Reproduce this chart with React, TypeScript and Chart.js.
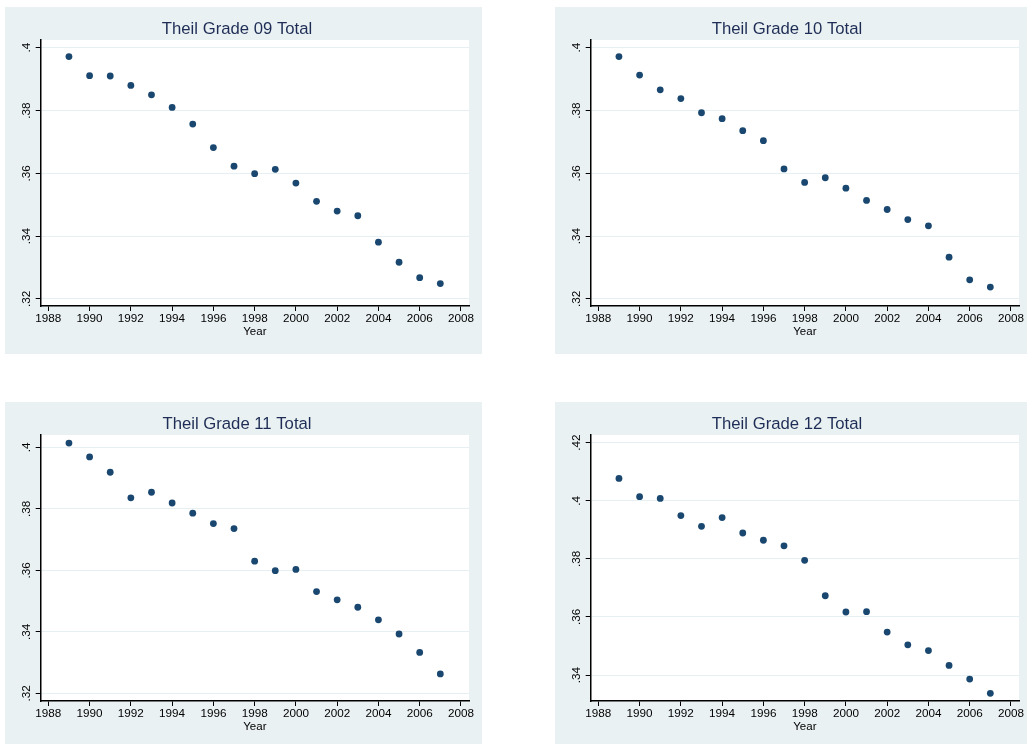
import React, { useEffect, useRef } from "react";
import { Chart, registerables } from "chart.js";

Chart.register(...registerables);

const years = [1989, 1990, 1991, 1992, 1993, 1994, 1995, 1996, 1997, 1998, 1999, 2000, 2001, 2002, 2003, 2004, 2005, 2006, 2007];
const grade09 = [0.3972, 0.3911, 0.391, 0.388, 0.385, 0.381, 0.3757, 0.3682, 0.3623, 0.3599, 0.3613, 0.3569, 0.3511, 0.348, 0.3465, 0.3381, 0.3317, 0.3268, 0.3249];
const grade10 = [0.3972, 0.3913, 0.3866, 0.3838, 0.3793, 0.3774, 0.3736, 0.3704, 0.3614, 0.3571, 0.3586, 0.3553, 0.3514, 0.3485, 0.3453, 0.3433, 0.3333, 0.3261, 0.3238];
const grade11 = [0.4014, 0.3969, 0.3919, 0.3836, 0.3854, 0.3819, 0.3786, 0.3752, 0.3736, 0.363, 0.3599, 0.3603, 0.3531, 0.3504, 0.348, 0.3439, 0.3393, 0.3333, 0.3263];
const grade12 = [0.4077, 0.4014, 0.4008, 0.3949, 0.3912, 0.3942, 0.3889, 0.3864, 0.3845, 0.3795, 0.3673, 0.3617, 0.3618, 0.3548, 0.3504, 0.3484, 0.3433, 0.3386, 0.3337];

const xTicks = [1988, 1990, 1992, 1994, 1996, 1998, 2000, 2002, 2004, 2006, 2008];
const yTicksLow = [0.32, 0.34, 0.36, 0.38, 0.4];
const yTickLabelsLow = [".32", ".34", ".36", ".38", ".4"];
const yTicksHigh = [0.34, 0.36, 0.38, 0.4, 0.42];
const yTickLabelsHigh = [".34", ".36", ".38", ".4", ".42"];

const FONT = "'Liberation Sans', Arial, Helvetica, sans-serif";
const PANEL_BG = "#eaf1f3";
const MARKER = "#1a476f";
const TITLE_COLOR = "#1e2d55";
const GRID = "#e6eff1";

const plotBg = {
  id: "plotBg",
  beforeDraw(chart: any) {
    const { ctx, chartArea } = chart;
    if (!chartArea) return;
    ctx.save();
    ctx.fillStyle = "#ffffff";
    ctx.fillRect(chartArea.left, chartArea.top, chartArea.right - chartArea.left, chartArea.bottom - chartArea.top);
    ctx.restore();
  },
};

type PanelProps = {
  title: string;
  values: number[];
  yTicks: number[];
  yLabels: string[];
  yMin: number;
  yMax: number;
  left: number;
  top: number;
  width: number;
  height: number;
};

function Panel({ title, values, yTicks, yLabels, yMin, yMax, left, top, width, height }: PanelProps) {
  const ref = useRef<HTMLCanvasElement | null>(null);
  useEffect(() => {
    if (!ref.current) return;
    const chart = new Chart(ref.current, {
      type: "scatter",
      data: {
        datasets: [
          {
            data: years.map((y, i) => ({ x: y, y: values[i] })),
            backgroundColor: MARKER,
            borderColor: MARKER,
            borderWidth: 0,
            pointRadius: 3.4,
            showLine: false,
          },
        ],
      },
      options: {
        animation: false,
        responsive: false,
        devicePixelRatio: 1,
        layout: { padding: { left: 0, right: width - 464, top: 0, bottom: height - 331.9 } },
        plugins: {
          legend: { display: false },
          tooltip: { enabled: false },
          title: {
            display: true,
            text: title,
            color: TITLE_COLOR,
            font: { family: FONT, size: 16.7, weight: "normal", lineHeight: 1.2 },
            padding: { top: 12, bottom: 1 },
          },
        },
        scales: {
          x: {
            type: "linear",
            min: 1987.63,
            max: 2008.39,
            afterBuildTicks: (s: any) => {
              s.ticks = xTicks.map((v) => ({ value: v }));
            },
            afterFit: (s: any) => {
              s.height = 32.9;
            },
            grid: { drawOnChartArea: false, tickLength: 5, tickColor: "#000", tickWidth: 1 },
            border: { color: "#000", width: 1.5 },
            ticks: {
              color: "#000",
              font: { family: FONT, size: 11.7 },
              padding: 1,
              maxRotation: 0,
              autoSkip: false,
              callback: (v: any) => String(v),
            },
            title: { display: true, text: "Year", color: "#000", font: { family: FONT, size: 11.5 }, padding: 0 },
          },
          y: {
            type: "linear",
            min: yMin,
            max: yMax,
            afterBuildTicks: (s: any) => {
              s.ticks = yTicks.map((v) => ({ value: v }));
            },
            afterFit: (s: any) => {
              s.width = 35.7;
            },
            grid: { color: GRID, tickColor: "#000", tickLength: 5, lineWidth: 1, tickWidth: 1 },
            border: { color: "#000", width: 1.5 },
            ticks: {
              minRotation: 90,
              maxRotation: 90,
              crossAlign: "center",
              padding: 0.5,
              color: "#000",
              font: { family: FONT, size: 11.7 },
              autoSkip: false,
              callback: (_v: any, i: number) => yLabels[i],
            },
          },
        },
      },
      plugins: [plotBg],
    } as any);
    return () => chart.destroy();
  }, []);
  return (
    <div style={{ position: "absolute", left, top, width, height, background: PANEL_BG }}>
      <canvas ref={ref} width={width} height={height} style={{ width, height, display: "block" }} />
    </div>
  );
}

export default function App() {
  return (
    <div style={{ position: "fixed", left: 0, top: 0, width: 1027, height: 744, background: "#ffffff", overflow: "hidden" }}>
      <Panel title="Theil Grade 09 Total" values={grade09} yTicks={yTicksLow} yLabels={yTickLabelsLow} yMin={0.31777} yMax={0.40245} left={5} top={7} width={477} height={347} />
      <Panel title="Theil Grade 10 Total" values={grade10} yTicks={yTicksLow} yLabels={yTickLabelsLow} yMin={0.31777} yMax={0.40245} left={555} top={7} width={472} height={347} />
      <Panel title="Theil Grade 11 Total" values={grade11} yTicks={yTicksLow} yLabels={yTickLabelsLow} yMin={0.31751} yMax={0.40401} left={5} top={402} width={477} height={342} />
      <Panel title="Theil Grade 12 Total" values={grade12} yTicks={yTicksHigh} yLabels={yTickLabelsHigh} yMin={0.33105} yMax={0.42264} left={555} top={402} width={472} height={342} />
    </div>
  );
}
